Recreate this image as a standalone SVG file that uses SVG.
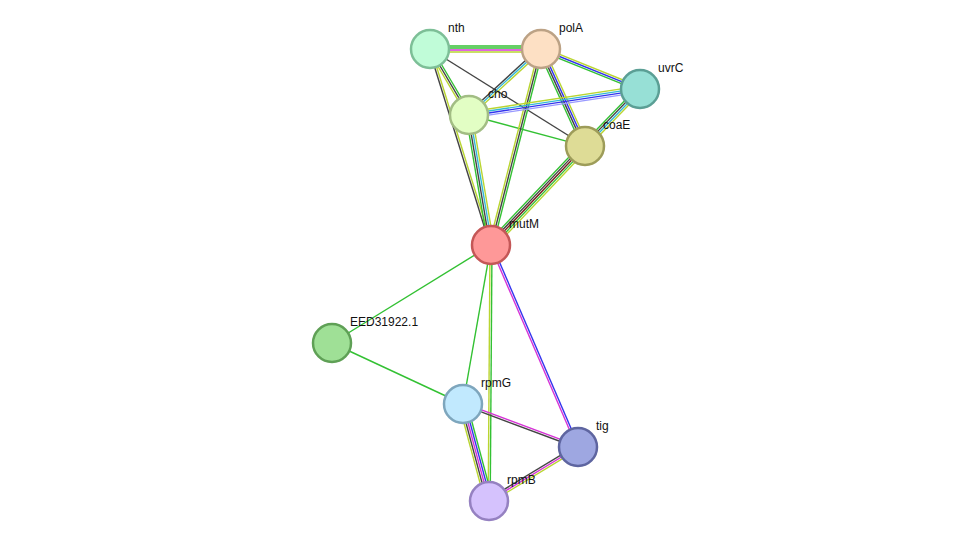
<svg xmlns="http://www.w3.org/2000/svg" width="976" height="547" viewBox="0 0 976 547">
<style>
line{stroke-width:1.4;fill:none}
.g{stroke:#33c133}.k{stroke:#444}.y{stroke:#b9d531}.m{stroke:#d633d6}.b{stroke:#3333ee}.c{stroke:#33b8d6}.l{stroke:#9999ff}.r{stroke:#772222}
.n{stroke-width:2.5}
text{font-family:"Liberation Sans",Arial,sans-serif;font-size:12px;fill:#111}
</style>
<rect width="976" height="547" fill="#fff"/>
<g id="edges">
<g transform="translate(430,49) rotate(0)"><line class="g" x1="0" y1="-3" x2="111" y2="-3"/><line class="g" x1="0" y1="-1" x2="111" y2="-1"/><line class="m" x1="0" y1="1" x2="111" y2="1"/><line class="y" x1="0" y1="3" x2="111" y2="3"/></g>
<g transform="translate(430,49) rotate(59.4)"><line class="g" x1="0" y1="-2" x2="77" y2="-2"/><line class="k" x1="0" y1="0" x2="77" y2="0"/><line class="y" x1="0" y1="2" x2="77" y2="2"/></g>
<g transform="translate(430,49) rotate(72.7)"><line class="y" x1="0" y1="-1" x2="205" y2="-1"/><line class="k" x1="0" y1="1" x2="205" y2="1"/></g>
<g transform="translate(430,49) rotate(32)"><line class="k" x1="0" y1="0" x2="183" y2="0"/></g>
<g transform="translate(469,115) rotate(15)"><line class="g" x1="0" y1="0" x2="120" y2="0"/></g>
<g transform="translate(541,49) rotate(137.5)"><line class="y" x1="0" y1="-2" x2="98" y2="-2"/><line class="c" x1="0" y1="0" x2="98" y2="0"/><line class="k" x1="0" y1="2" x2="98" y2="2"/></g>
<g transform="translate(541,49) rotate(104.3)"><line class="g" x1="0" y1="-2" x2="202" y2="-2"/><line class="k" x1="0" y1="0" x2="202" y2="0"/><line class="y" x1="0" y1="2" x2="202" y2="2"/></g>
<g transform="translate(541,49) rotate(65.6)"><line class="y" x1="0" y1="-3" x2="107" y2="-3"/><line class="b" x1="0" y1="-1" x2="107" y2="-1"/><line class="k" x1="0" y1="1" x2="107" y2="1"/><line class="g" x1="0" y1="3" x2="107" y2="3"/></g>
<g transform="translate(541,49) rotate(22)"><line class="y" x1="0" y1="-2" x2="107" y2="-2"/><line class="b" x1="0" y1="0" x2="107" y2="0"/><line class="g" x1="0" y1="2" x2="107" y2="2"/></g>
<g transform="translate(469,115) rotate(-8.6)"><line class="y" x1="0" y1="-3" x2="173" y2="-3"/><line class="c" x1="0" y1="-1" x2="173" y2="-1"/><line class="b" x1="0" y1="1" x2="173" y2="1"/><line class="l" x1="0" y1="3" x2="173" y2="3"/></g>
<g transform="translate(469,115) rotate(80.4)"><line class="y" x1="0" y1="-3" x2="132" y2="-3"/><line class="c" x1="0" y1="-1" x2="132" y2="-1"/><line class="k" x1="0" y1="1" x2="132" y2="1"/><line class="g" x1="0" y1="3" x2="132" y2="3"/></g>
<g transform="translate(640,89) rotate(134)"><line class="y" x1="0" y1="-3" x2="79" y2="-3"/><line class="c" x1="0" y1="-1" x2="79" y2="-1"/><line class="k" x1="0" y1="1" x2="79" y2="1"/><line class="g" x1="0" y1="3" x2="79" y2="3"/></g>
<g transform="translate(585,146) rotate(133.5)"><line class="y" x1="0" y1="-4" x2="137" y2="-4"/><line class="g" x1="0" y1="-2" x2="137" y2="-2"/><line class="r" x1="0" y1="0" x2="137" y2="0"/><line class="k" x1="0" y1="2" x2="137" y2="2"/><line class="g" x1="0" y1="4" x2="137" y2="4"/></g>
<line class="g" x1="491" y1="245" x2="332" y2="343"/>
<line class="g" x1="332" y1="343" x2="463" y2="404"/>
<line class="g" x1="491" y1="245" x2="463" y2="404"/>
<g transform="translate(491,245) rotate(90.4)"><line class="g" x1="0" y1="-1" x2="256" y2="-1"/><line class="y" x1="0" y1="1" x2="256" y2="1"/></g>
<g transform="translate(491,245) rotate(66.7)"><line class="b" x1="0" y1="-1" x2="220" y2="-1"/><line class="m" x1="0" y1="1" x2="220" y2="1"/></g>
<g transform="translate(463,404) rotate(20.5)"><line class="m" x1="0" y1="-1" x2="123" y2="-1"/><line class="k" x1="0" y1="1" x2="123" y2="1"/></g>
<g transform="translate(463,404) rotate(75)"><line class="g" x1="0" y1="-4" x2="100" y2="-4"/><line class="b" x1="0" y1="-2" x2="100" y2="-2"/><line class="m" x1="0" y1="0" x2="100" y2="0"/><line class="k" x1="0" y1="2" x2="100" y2="2"/><line class="y" x1="0" y1="4" x2="100" y2="4"/></g>
<g transform="translate(578,447) rotate(148.8)"><line class="y" x1="0" y1="-2" x2="104" y2="-2"/><line class="m" x1="0" y1="0" x2="104" y2="0"/><line class="k" x1="0" y1="2" x2="104" y2="2"/></g>
</g>
<g id="nth"><circle class="n" cx="430" cy="49" r="19" fill="#c0fcd8" stroke="#7dbf97"/><text x="448" y="32">nth</text></g>
<g id="polA"><circle class="n" cx="541" cy="49" r="19" fill="#fde0c4" stroke="#bca285"/><text x="559" y="32">polA</text></g>
<g id="uvrC"><circle class="n" cx="640" cy="89" r="19" fill="#97e0d6" stroke="#5b9f95"/><text x="658" y="72">uvrC</text></g>
<g id="cho"><circle class="n" cx="469" cy="115" r="19" fill="#e2fec4" stroke="#a2bd84"/><text x="488" y="98">cho</text></g>
<g id="coaE"><circle class="n" cx="585" cy="146" r="19" fill="#dedc96" stroke="#9d9c59"/><text x="603" y="129">coaE</text></g>
<g id="mutM"><circle class="n" cx="491" cy="245" r="19" fill="#fe9898" stroke="#c45757"/><text x="509" y="228">mutM</text></g>
<g id="EED31922.1"><circle class="n" cx="332" cy="343" r="19" fill="#9fe096" stroke="#5fa056"/><text x="350" y="326">EED31922.1</text></g>
<g id="rpmG"><circle class="n" cx="463" cy="404" r="19" fill="#c1e9fe" stroke="#7ea6bd"/><text x="481" y="387">rpmG</text></g>
<g id="tig"><circle class="n" cx="578" cy="447" r="19" fill="#9ea7e1" stroke="#5e65a0"/><text x="596" y="430">tig</text></g>
<g id="rpmB"><circle class="n" cx="489" cy="501" r="19" fill="#d5c2fd" stroke="#9581c1"/><text x="507" y="484">rpmB</text></g>
</svg>
